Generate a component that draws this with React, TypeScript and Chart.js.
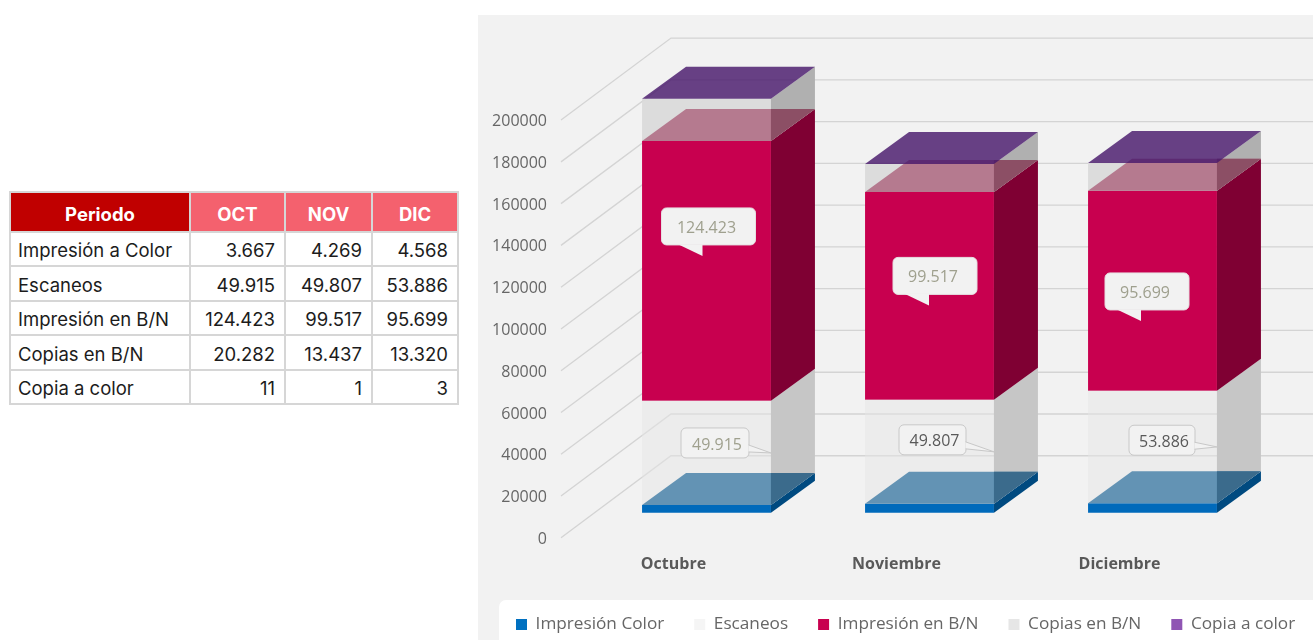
import React, { useEffect, useRef } from "react";
import { Chart, registerables } from "chart.js";

Chart.register(...registerables);

// ---- data ----
const categories = ["Octubre", "Noviembre", "Diciembre"];
const tableMonths = ["OCT", "NOV", "DIC"];
const tableRowNames = ["Impresión a Color", "Escaneos", "Impresión en B/N", "Copias en B/N", "Copia a color"];
const legendNames = ["Impresión Color", "Escaneos", "Impresión en B/N", "Copias en B/N", "Copia a color"];
const impresionColor = [3667, 4269, 4568];
const escaneos = [49915, 49807, 53886];
const impresionBN = [124423, 99517, 95699];
const copiasBN = [20282, 13437, 13320];
const copiaColor = [11, 1, 3];
const yTicks = [0, 20000, 40000, 60000, 80000, 100000, 120000, 140000, 160000, 180000, 200000];

// ---- styles ----
const frontColors = ["#006abb", "rgba(230,230,230,0.5)", "#c8004f", "rgba(217,217,217,0.9)", "rgba(72,25,107,0.82)"];
const legendColors = ["#0070c0", "#f5f5f5", "#c8004f", "#e6e6e6", "#8f55b3"];
const sideColors = ["#004a80", "#c6c6c6", "#7f0033", "#b0b0b0", "#48196b"];
const topColors = ["#6393b4", null, "#b57a8f", null, "rgba(72,25,107,0.82)"];
const topOverlapColors = ["#3b6b8c", null, "#8c4f65", null, null];
const CHART_BG = "#f2f2f2";
const GRID = "#d4d4d4";
const CANVAS_W = 860;
const CANVAS_H = 628;
const BAR_DEPTH = { x: 44, y: 32 };
const WALL = { x0: 83, dx: 110, dy: 82, labelDrop: 1.5 };
const FONT = '"Open Sans"';
const MUTED = "#9fa08e";
const DARK = "#595959";

// callout layout: [dataset index, category index, dx, dy, width, height, text colour]
const callouts: [number, number, number, number, number, number, string][] = [
  [2, 0, 2, -44.5, 94, 37, MUTED],
  [2, 1, 5.5, -20, 84, 37, MUTED],
  [2, 2, -5.5, 0.7, 84, 37, MUTED],
  [1, 0, 8.5, -10, 68, 30, MUTED],
  [1, 1, 3, -12, 67, 30, DARK],
  [1, 2, 9.5, -6.7, 66, 30, DARK],
];

const fmt = (n: number) => String(n).replace(/\B(?=(\d{3})+(?!\d))/g, ".");
const seriesList = [impresionColor, escaneos, impresionBN, copiasBN, copiaColor];

function poly(ctx: CanvasRenderingContext2D, pts: number[][], fill: string) {
  ctx.beginPath();
  pts.forEach((p, i) => (i ? ctx.lineTo(p[0], p[1]) : ctx.moveTo(p[0], p[1])));
  ctx.closePath();
  ctx.fillStyle = fill;
  ctx.fill();
}

const backdrop = {
  id: "backdrop",
  beforeDraw(chart: any) {
    const { ctx, width, height } = chart;
    ctx.save();
    ctx.fillStyle = CHART_BG;
    ctx.fillRect(0, 0, width, height);
    ctx.fillStyle = "#ffffff";
    ctx.beginPath();
    ctx.roundRect(21, 585, width, 60, 7);
    ctx.fill();
    ctx.restore();
  },
};

const walls = {
  id: "walls",
  beforeDatasetsDraw(chart: any) {
    const { ctx, width } = chart;
    const s = chart.scales.yLabels;
    ctx.save();
    ctx.strokeStyle = GRID;
    ctx.lineWidth = 1.3;
    yTicks.forEach((v) => {
      const p = s.getPixelForValue(v) - WALL.labelDrop;
      ctx.beginPath();
      ctx.moveTo(WALL.x0, p);
      ctx.lineTo(WALL.x0 + WALL.dx, p - WALL.dy);
      ctx.lineTo(width, p - WALL.dy);
      ctx.stroke();
    });
    ctx.restore();
  },
};

const faces = {
  id: "faces",
  afterDatasetsDraw(chart: any) {
    const { ctx } = chart;
    const { x: dx, y: dy } = BAR_DEPTH;
    ctx.save();
    const metas = seriesList.map((_, i) => chart.getDatasetMeta(i));
    metas.forEach((m, i) =>
      m.data.forEach((b: any) => {
        const r = b.x + b.width / 2;
        poly(ctx, [[r, b.y], [r, b.base], [r + dx, b.base - dy], [r + dx, b.y - dy]], sideColors[i]);
      })
    );
    metas.forEach((m, i) => {
      const top = topColors[i];
      if (!top) return;
      m.data.forEach((b: any) => {
        const l = b.x - b.width / 2;
        const r = b.x + b.width / 2;
        poly(ctx, [[l, b.y], [r, b.y], [r + dx, b.y - dy], [l + dx, b.y - dy]], top);
        const over = topOverlapColors[i];
        if (over) poly(ctx, [[r, b.y], [r + dx, b.y - dy], [r, b.y - dy]], over);
      });
    });

    callouts.forEach(([ds, cat, ox, oy, w, h, color]) => {
      const b = metas[ds].data[cat];
      const mid = (b.y + b.base) / 2;
      const cx = b.x + ox;
      const cy = mid + oy;
      const l = cx - w / 2;
      const t = cy - h / 2;
      const isSide = ds === 1;
      ctx.beginPath();
      ctx.roundRect(l, t, w, h, 5);
      ctx.fillStyle = CHART_BG;
      ctx.strokeStyle = isSide ? "#c8c8c8" : "#e6dfe2";
      ctx.lineWidth = 1;
      ctx.fill();
      ctx.stroke();
      const tail = isSide
        ? [[l + w - 0.5, cy + 2], [b.x + b.width / 2, mid], [l + w - 0.5, cy + 9]]
        : [[cx - 30, t + h - 0.5], [cx - 6, t + h + 11], [cx - 6, t + h - 0.5]];
      ctx.beginPath();
      tail.forEach((p, k) => (k ? ctx.lineTo(p[0], p[1]) : ctx.moveTo(p[0], p[1])));
      ctx.fillStyle = CHART_BG;
      ctx.fill();
      if (isSide) ctx.stroke();
      ctx.fillStyle = color;
      ctx.font = `16px ${FONT}`;
      ctx.textAlign = "center";
      ctx.textBaseline = "middle";
      ctx.fillText(fmt(seriesList[ds][cat]), cx + (isSide ? 2 : -2), cy + 2);
    });
    ctx.restore();
  },
};

const colWidths = [180, 95, 87, 86];
const rowHeights = [34, 35, 34, 35, 34];
const cellBorder = "2px solid #d6d6d6";
const tableFont = "18.5px Inter";

function DataTable() {
  const head: React.CSSProperties = {
    border: cellBorder, color: "#fff", fontWeight: 700, textAlign: "center",
    padding: "4px 0 0", height: 34, background: "#f4616e",
  };
  const cell: React.CSSProperties = { border: cellBorder, padding: "2px 9px 0 7px", color: "#1c1c1c", background: "#fff" };
  return (
    <table style={{ position: "absolute", left: 9, top: 191, width: 448, tableLayout: "fixed", borderCollapse: "collapse", font: tableFont }}>
      <colgroup>{colWidths.map((w, i) => <col key={i} style={{ width: w }} />)}</colgroup>
      <thead>
        <tr>
          <th style={{ ...head, background: "#c00000" }}>Periodo</th>
          {tableMonths.map((m) => <th key={m} style={head}>{m}</th>)}
        </tr>
      </thead>
      <tbody>
        {tableRowNames.map((name, i) => (
          <tr key={name} style={{ height: rowHeights[i] }}>
            <td style={cell}>{name}</td>
            {seriesList[i].map((v, j) => <td key={j} style={{ ...cell, textAlign: "right" }}>{fmt(v)}</td>)}
          </tr>
        ))}
      </tbody>
    </table>
  );
}

const noAxisPadding = (s: any, width: number) => {
  s.width = width;
  s.paddingTop = 0;
  s.paddingBottom = 0;
};

export default function App() {
  const ref = useRef<HTMLCanvasElement>(null);
  useEffect(() => {
    const chart = new Chart(ref.current!, {
      type: "bar",
      data: {
        labels: categories,
        datasets: seriesList.map((d, i) => ({
          label: legendNames[i],
          data: d,
          yAxisID: "y",
          backgroundColor: frontColors[i],
          borderWidth: 0,
          barPercentage: 0.578,
          categoryPercentage: 1,
        })),
      },
      options: {
        responsive: false,
        animation: false,
        devicePixelRatio: 1,
        events: [],
        layout: { padding: { left: 8, right: 0, top: 23, bottom: 0 } },
        plugins: {
          tooltip: { enabled: false },
          title: { display: false },
          legend: {
            position: "bottom",
            align: "start",
            labels: {
              boxWidth: 11,
              boxHeight: 11,
              padding: 30,
              color: "#666666",
              font: { family: FONT, size: 17.2 },
              generateLabels: () =>
                legendNames.map((text, i) => ({
                  text, fillStyle: legendColors[i], strokeStyle: legendColors[i], lineWidth: 0, hidden: false, datasetIndex: i, fontColor: "#666666",
                })),
            },
          },
        },
        scales: {
          x: {
            stacked: true,
            grid: { display: false },
            border: { display: false },
            afterFit: (s: any) => { s.height = 48; },
            ticks: {
              autoSkip: false, maxRotation: 0, labelOffset: -33, padding: 9,
              color: DARK, font: { family: FONT, size: 16, weight: "bold" },
            },
          },
          y: {
            stacked: true,
            position: "right",
            min: -12000,
            max: 227329,
            grid: { display: false },
            border: { display: false },
            ticks: { display: false },
            afterFit: (s: any) => noAxisPadding(s, 74),
          },
          yLabels: {
            type: "linear",
            position: "left",
            min: 700,
            max: 240029,
            grid: { display: false },
            border: { display: false },
            afterBuildTicks: (s: any) => { s.ticks = yTicks.map((value) => ({ value })); },
            afterFit: (s: any) => noAxisPadding(s, 109),
            ticks: {
              padding: 40,
              color: "#666666",
              font: { family: FONT, size: 16 },
              callback: (v: any) => String(v),
            },
          },
        },
      },
      plugins: [backdrop, walls, faces],
    } as any);
    return () => chart.destroy();
  }, []);
  return (
    <div style={{ position: "fixed", left: 0, top: 0, width: 1313, height: 640, overflow: "hidden", background: "#fff" }}>
      <DataTable />
      <canvas ref={ref} width={CANVAS_W} height={CANVAS_H} style={{ position: "absolute", left: 478, top: 15, display: "block" }} />
    </div>
  );
}
